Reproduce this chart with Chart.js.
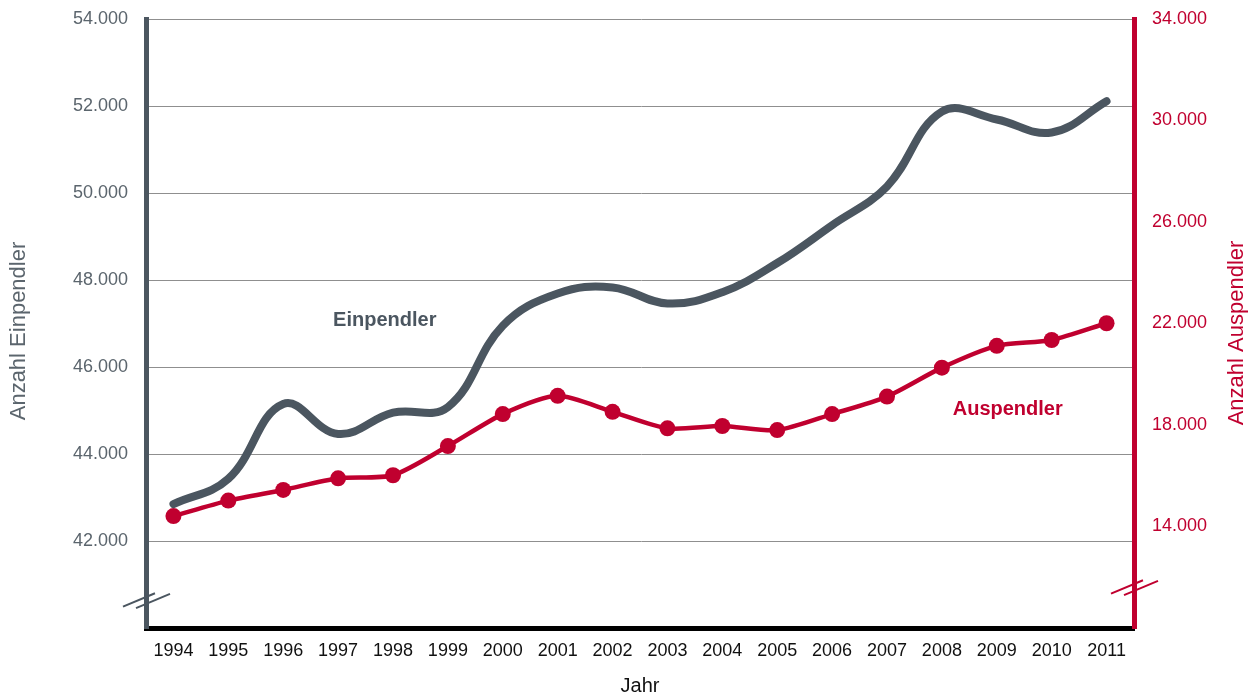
<!DOCTYPE html>
<html>
<head>
<meta charset="utf-8">
<script src="https://cdn.jsdelivr.net/npm/chart.js@4/dist/chart.umd.min.js"></script>
<style>
html,body{margin:0;padding:0;background:#fff;}
#wrap{width:1250px;height:698px;position:relative;}
</style>
</head>
<body>
<div id="wrap"><canvas id="c" width="1250" height="698"></canvas></div>
<script>
// ---- data ----
const years = ['1994','1995','1996','1997','1998','1999','2000','2001','2002','2003','2004','2005','2006','2007','2008','2009','2010','2011'];
const einpendler = [42850, 43430, 45150, 44460, 44950, 45080, 46950, 47690, 47830, 47460, 47720, 48390, 49260, 50150, 51870, 51690, 51390, 52110];
const auspendler = [14410, 15020, 15440, 15900, 16020, 17170, 18430, 19150, 18520, 17870, 17960, 17800, 18430, 19120, 20260, 21120, 21350, 22010];
const leftTickValues = [42000, 44000, 46000, 48000, 50000, 52000, 54000];
const rightTickValues = [14000, 18000, 22000, 26000, 30000, 34000];
const seriesNames = ['Einpendler', 'Auspendler'];
const axisTitles = { left: 'Anzahl Einpendler', right: 'Anzahl Auspendler', bottom: 'Jahr' };

const GRAY = '#4b5660';
const GRAY_TXT = '#5b656d';
const RED = '#c0002f';
const FONT = "'Liberation Sans', Arial, Helvetica, sans-serif";

const fmt = v => String(v).replace(/\B(?=(\d{3})+(?!\d))/g, '.');

const extras = {
  id: 'extras',
  afterDraw(chart) {
    const ctx = chart.ctx;
    const a = chart.chartArea;
    const xs = chart.scales.x, yl = chart.scales.y, yr = chart.scales.y2;
    ctx.save();
    // axis break marks
    ctx.lineWidth = 2;
    ctx.lineCap = 'butt';
    const slope = -0.42;
    function brk(cx, cy, color) {
      ctx.strokeStyle = color;
      [[-23, -3, 9], [-10, 4, 24]].forEach(([x0, dy, x1]) => {
        ctx.beginPath();
        ctx.moveTo(cx + x0, cy + dy + x0 * slope);
        ctx.lineTo(cx + x1, cy + dy + x1 * slope);
        ctx.stroke();
      });
    }
    brk(a.left, a.bottom - 28, GRAY);
    brk(a.right, a.bottom - 41, RED);

    // side axis titles (both read bottom-to-top)
    ctx.font = '22px ' + FONT;
    ctx.textAlign = 'center';
    ctx.textBaseline = 'middle';
    ctx.fillStyle = GRAY_TXT;
    ctx.save();
    ctx.translate(19, 331);
    ctx.rotate(-Math.PI / 2);
    ctx.fillText(axisTitles.left, 0, 0);
    ctx.restore();
    ctx.fillStyle = RED;
    ctx.save();
    ctx.translate(1237, 333);
    ctx.rotate(-Math.PI / 2);
    ctx.fillText(axisTitles.right, 0, 0);
    ctx.restore();

    // series labels
    ctx.font = 'bold 20px ' + FONT;
    ctx.fillStyle = GRAY;
    ctx.fillText(seriesNames[0], xs.getPixelForValue(3.85), yl.getPixelForValue(47060));
    ctx.fillStyle = RED;
    ctx.fillText(seriesNames[1], xs.getPixelForValue(15.2), yr.getPixelForValue(18630));
    ctx.restore();
  }
};

new Chart(document.getElementById('c'), {
  type: 'line',
  data: {
    labels: years,
    datasets: [
      {
        label: seriesNames[0],
        data: einpendler,
        yAxisID: 'y',
        borderColor: GRAY,
        backgroundColor: GRAY,
        borderWidth: 8,
        borderCapStyle: 'round',
        borderJoinStyle: 'round',
        pointRadius: 0,
        tension: 0.4,
        fill: false
      },
      {
        label: seriesNames[1],
        data: auspendler,
        yAxisID: 'y2',
        borderColor: RED,
        backgroundColor: RED,
        borderWidth: 4.5,
        pointRadius: 8,
        pointBorderWidth: 0,
        pointBackgroundColor: RED,
        tension: 0.25,
        fill: false
      }
    ]
  },
  options: {
    responsive: false,
    animation: false,
    devicePixelRatio: 1,
    layout: { padding: { top: 19, left: 0, right: 0, bottom: 0 } },
    plugins: { legend: { display: false }, tooltip: { enabled: false } },
    scales: {
      x: {
        type: 'category',
        offset: true,
        grid: { display: false, drawTicks: false },
        border: { display: true, color: '#000', width: 5 },
        ticks: { color: '#111', font: { size: 18, family: FONT }, padding: 12, maxRotation: 0, autoSkip: false },
        title: { display: true, text: axisTitles.bottom, color: '#111', font: { size: 20, family: FONT }, padding: { top: 0, bottom: 0 } },
        afterFit: s => { s.height = 70; s.paddingLeft = 0; s.paddingRight = 0; }
      },
      y: {
        position: 'left',
        min: 40000,
        max: 54000,
        afterBuildTicks: s => { s.ticks = [40000].concat(leftTickValues).map(v => ({ value: v })); },
        ticks: {
          color: GRAY_TXT,
          font: { size: 18, family: FONT },
          padding: 18,
          callback: v => (leftTickValues.includes(v) ? fmt(v) : '')
        },
        grid: { color: '#8f8f8f', lineWidth: 1, drawTicks: false },
        border: { display: true, color: GRAY, width: 5 },
        afterFit: s => { s.width = 146; s.paddingTop = 0; s.paddingBottom = 0; }
      },
      y2: {
        position: 'right',
        min: 10000,
        max: 34000,
        afterBuildTicks: s => { s.ticks = rightTickValues.map(v => ({ value: v })); },
        ticks: {
          color: RED,
          font: { size: 18, family: FONT },
          padding: 18,
          callback: v => fmt(v)
        },
        grid: { display: false, drawTicks: false },
        border: { display: true, color: RED, width: 5 },
        afterFit: s => { s.width = 116; s.paddingTop = 0; s.paddingBottom = 0; }
      }
    }
  },
  plugins: [extras]
});
</script>
</body>
</html>
